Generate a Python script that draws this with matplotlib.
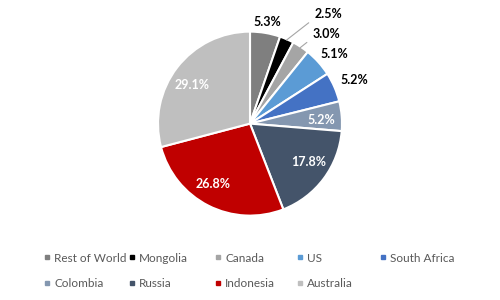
import numpy as np
import matplotlib.pyplot as plt
from matplotlib.lines import Line2D

plt.rcParams['font.family'] = ['Lato', 'DejaVu Sans']

countries = ['Rest of World', 'Mongolia', 'Canada', 'US', 'South Africa',
             'Colombia', 'Russia', 'Indonesia', 'Australia']
shares = [5.3, 2.5, 3.0, 5.1, 5.2, 5.2, 17.8, 26.8, 29.1]
colors = ['#7f7f7f', '#000000', '#a5a5a5', '#5b9bd5', '#4472c4',
          '#8497b0', '#44546a', '#c00000', '#bfbfbf']
# label placement: radius (in pie radii), angle tweak (deg), inside?
label_r = [1.12, 1.38, 1.19, 1.19, 1.225, 0.78, 0.76, 0.77, 0.76]
label_dang = [0.0, -7.1, -1.6, -2.6, -0.7, -1.9, 3.1, -4.5, 4.0]
inside = [False, False, False, False, False, True, True, True, True]
leader = [False, True, True, False, False, False, False, False, False]

fig = plt.figure(figsize=(5, 3), dpi=100)
ax = fig.add_axes([0.5 - 0.184, 0.588 - 0.3067, 0.368, 0.6133])
wedges, _ = ax.pie(shares, colors=colors, startangle=90, counterclock=False,
                   wedgeprops=dict(edgecolor='white', linewidth=1.5))
ax.set_xlim(-1, 1)
ax.set_ylim(-1, 1)
ax.set_aspect('equal')

for w, val, r, da, ins, ld in zip(wedges, shares, label_r, label_dang, inside, leader):
    mid = np.deg2rad((w.theta1 + w.theta2) / 2 + da)
    x, y = r * np.cos(mid), r * np.sin(mid)
    col = 'white' if ins else 'black'
    if ld:
        tm = np.deg2rad((w.theta1 + w.theta2) / 2)
        ax.annotate(f'{val:.1f}%', xy=(0.99 * np.cos(tm), 0.99 * np.sin(tm)),
                    xytext=(x, y), ha='left', va='center', fontsize=9,
                    fontweight='bold', color=col, annotation_clip=False,
                    arrowprops=dict(arrowstyle='-', color='#a5a5a5', lw=0.8,
                                    shrinkA=3, shrinkB=0, relpos=(0, 0.2)))
    else:
        ax.text(x, y, f'{val:.1f}%', ha='center', va='center', fontsize=9,
                fontweight='bold', color=col)

# legend, 5 equally spaced columns
col_x = [0.086, 0.256, 0.428, 0.592, 0.758]
for c in range(5):
    idx = [i for i in range(len(countries)) if i % 5 == c]
    handles = [Line2D([], [], marker='s', linestyle='', markersize=3.5,
                      color=colors[i]) for i in idx]
    labels = [countries[i] for i in idx]
    fig.legend(handles, labels, loc='upper left', bbox_to_anchor=(col_x[c], 0.158),
               frameon=False, fontsize=8.5, handlelength=0.6, handletextpad=0.35,
               labelspacing=1.25, borderpad=0, borderaxespad=0,
               labelcolor='#595959')

fig.savefig('out.png', dpi=100)
